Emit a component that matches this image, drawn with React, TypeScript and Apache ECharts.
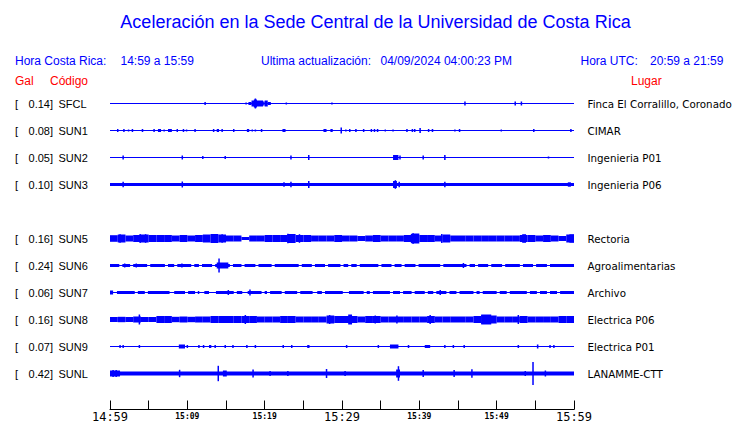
import React, { useEffect, useRef } from 'react';
import * as echarts from 'echarts';

const titleText = 'Aceleración en la Sede Central de la Universidad de Costa Rica';
const localTime = '14:59 a 15:59';
const utcTime = '20:59 a 21:59';
const updatedAt = '04/09/2024 04:00:23 PM';

const codes = ['SFCL', 'SUN1', 'SUN2', 'SUN3', 'SUN5', 'SUN6', 'SUN7', 'SUN8', 'SUN9', 'SUNL'];
const galValues = ['0.14', '0.08', '0.05', '0.10', '0.16', '0.24', '0.06', '0.16', '0.07', '0.42'];
const places = ['Finca El Corralillo, Coronado', 'CIMAR', 'Ingenieria P01', 'Ingenieria P06', 'Rectoria', 'Agroalimentarias', 'Archivo', 'Electrica P06', 'Electrica P01', 'LANAMME-CTT'];
const rowIndex = [0, 1, 2, 3, 5, 6, 7, 8, 9, 10];
const tickLabels = ['14:59', '', '15:09', '', '15:19', '', '15:29', '', '15:39', '', '15:49', '', '15:59'];

// baseline half-thickness of each trace (amplitude units)
const baseAmp = [0.5, 0.5, 0.5, 1.6, 0, 0.5, 0.5, 0, 0.5, 2];

// segments: [start minute, end minute, half amplitude]
const sfcl = [[12.3, 12.3, 1.5], [17.6, 17.6, 1], [17.9, 18.3, 1.5], [18.3, 19.8, 3], [18.6, 19.0, 4], [18.75, 18.85, 5], [19.8, 20.0, 2], [20.0, 20.4, 3], [20.4, 20.8, 1.5], [22.8, 22.8, 1], [28.7, 28.7, 1], [45.9, 45.9, 2], [52.4, 52.4, 2], [53.2, 53.2, 2]];
const sun1 = [[1.0, 1.0, 1.5], [1.8, 1.8, 1.5], [2.4, 2.4, 1], [2.9, 2.9, 1.5], [4.1, 4.3, 1.5], [5.7, 5.7, 1.5], [6.2, 6.6, 1.5], [7.0, 7.0, 1], [7.5, 8.0, 1.5], [8.7, 8.7, 1.5], [9.5, 9.5, 1.5], [9.9, 9.9, 1], [11.0, 11.0, 1.5], [13.4, 13.4, 1.5], [13.8, 14.1, 1.5], [14.5, 14.5, 1.5], [16.0, 16.0, 1.5], [17.7, 18.0, 1.5], [18.4, 18.4, 1], [18.8, 18.8, 1], [19.6, 19.6, 1.5], [22.3, 22.7, 1.5], [27.6, 28.0, 1.5], [28.5, 28.8, 1.5], [29.9, 29.9, 3], [30.5, 30.5, 1], [31.0, 31.0, 1.5], [31.7, 31.9, 1.5], [32.8, 32.8, 1.5], [33.8, 33.8, 1.5], [34.2, 34.2, 1.5], [34.5, 34.7, 1.5], [35.6, 35.6, 1], [36.6, 36.6, 1], [38.3, 38.5, 1.5], [39.1, 39.1, 1.5], [39.3, 39.5, 1.5], [40.0, 40.2, 2.5], [41.2, 41.2, 1.5], [41.6, 41.8, 1.5], [44.6, 44.6, 1], [45.2, 45.2, 1.5], [50.6, 50.6, 1], [54.7, 54.9, 1.5], [59.5, 59.7, 1.5]];
const sun2 = [[1.7, 1.7, 2], [9.35, 9.35, 2], [12.0, 12.0, 1.5], [14.9, 14.9, 1.5], [23.4, 23.4, 2], [25.6, 25.8, 2.5], [36.6, 37.3, 2.5], [37.5, 37.5, 2], [40.5, 40.5, 2], [43.2, 43.4, 2.5], [56.7, 56.7, 1]];
const sun3 = [[1.7, 1.7, 2.7], [9.35, 9.35, 3], [22.4, 22.6, 2.2], [23.4, 23.4, 2.7], [25.6, 25.8, 3.5], [36.6, 37.1, 3.5], [36.9, 36.9, 4.3], [37.4, 37.4, 2.7], [43.3, 43.3, 2.7], [59.2, 59.6, 2.2]];
const sun5Env = [3.3, 4, 3, 3.5, 4, 3.5, 3.5, 3.5, 3, 3.5, 3, 3.5, 4, 4.5, 4, 3, 3, 1.5, 3, 3, 3.5, 3.5, 3.5, 4.5, 3.5, 3.5, 3, 3, 3, 3.5, 3, 3, 2.5, 3, 3.5, 3, 3, 3, 3.5, 5, 3.5, 3.5, 3, 4, 3, 3, 3, 3, 3, 3, 3, 3, 3, 3.5, 3.5, 3, 3.5, 3, 2.5, 4];
const sun5 = [[1.3, 1.3, 4.3], [3.9, 3.9, 4.5], [4.6, 4.6, 4.3], [13.3, 13.3, 4.5], [14.5, 14.5, 4.3], [23.0, 23.0, 4.7], [24.5, 24.5, 4.3], [38.9, 39.6, 4.5], [39.2, 39.2, 5.3], [42.9, 42.9, 4.5], [53.3, 53.8, 4.3], [59.4, 60, 4.2]];
const sun6 = [[0, 1.2, 1.5], [1.6, 2.6, 1.5], [1.9, 1.9, 2], [3.0, 4.8, 1.5], [3.4, 3.4, 2], [5.2, 7.1, 1.5], [7.5, 8.3, 1.5], [8.7, 10.5, 1.5], [9.3, 9.3, 2], [10.9, 11.5, 1.5], [11.9, 13.2, 1.5], [13.6, 15.5, 1.5], [13.8, 15.3, 3], [14.1, 14.1, 7], [15.9, 17.0, 1.5], [17.4, 18.8, 1.5], [19.2, 20.9, 1.5], [21.3, 24.4, 1.5], [24.8, 26.1, 1.5], [26.5, 27.8, 1.5], [28.2, 29.8, 1.5], [30.2, 30.8, 1.5], [31.2, 31.9, 1.5], [32.3, 34.7, 1.5], [35.1, 36.4, 1.5], [36.8, 37.7, 1.5], [38.1, 39.5, 1.5], [39.9, 42.7, 1.5], [43.1, 46.1, 1.5], [45.7, 45.7, 2.5], [46.5, 47.2, 1.5], [47.6, 48.9, 1.5], [49.3, 50.7, 1.5], [51.1, 53.0, 1.5], [53.4, 54.7, 1.5], [55.1, 56.5, 1.5], [56.9, 60, 1.5]];
const sun7 = [[0, 0.4, 2], [0.9, 3.2, 1.5], [3.6, 4.5, 1.5], [4.9, 7.7, 1.5], [8.3, 9.7, 1.5], [10.1, 11.0, 1.5], [11.4, 11.5, 1.5], [12.2, 12.8, 1.5], [13.7, 16.0, 1.5], [15.3, 15.3, 2.5], [16.4, 17.1, 1.5], [17.8, 19.6, 1.5], [18.1, 18.1, 3], [20.0, 20.3, 1.5], [20.7, 22.2, 1.5], [22.6, 24.2, 1.5], [24.6, 26.2, 1.5], [26.8, 27.4, 1.5], [27.8, 30.1, 1.5], [30.9, 32.8, 1.5], [33.2, 33.6, 1.5], [34.0, 36.2, 1.5], [36.6, 37.5, 1.5], [37.9, 39.0, 1.5], [39.4, 40.7, 1.5], [41.1, 41.8, 1.5], [42.2, 43.5, 1.5], [42.7, 42.7, 2.5], [43.9, 44.8, 1.5], [45.2, 47.0, 1.5], [47.4, 47.8, 1.5], [48.2, 50.0, 1.5], [50.4, 51.3, 1.5], [51.7, 53.9, 1.5], [54.3, 55.2, 1.5], [55.6, 56.5, 1.5], [56.9, 57.8, 1.5], [58.2, 60, 1.5]];
const sun8Env = [2.5, 2.7, 2.5, 3, 2.5, 2.5, 3.5, 3.5, 2.7, 3, 2.7, 3, 3, 3.5, 3.5, 3.5, 3.5, 3.5, 3.5, 3, 3, 3, 3.5, 3.5, 3, 3, 3, 3, 4, 3.5, 3.5, 3.5, 3, 3.5, 3.5, 3, 3, 3, 3, 3, 3, 3.5, 3, 3, 3, 3, 3, 3.5, 4.5, 4, 3, 3, 3, 3.5, 3, 3, 3, 3, 3.5, 3.5];
const sun8 = [[3.8, 3.8, 5], [17.5, 17.5, 4.5], [28.4, 28.4, 4.5], [30.8, 31.3, 5], [34.3, 34.3, 4], [37.1, 37.1, 4], [41.4, 41.4, 4.5], [48.0, 49.3, 5], [52.8, 52.8, 4.5]];
const sun9 = [[1.3, 1.3, 1.5], [1.7, 1.7, 1.5], [3.8, 3.8, 1.5], [8.9, 9.7, 2], [10.0, 10.0, 1.5], [11.5, 11.5, 1.5], [12.1, 12.1, 1.5], [12.8, 13.1, 1.5], [13.6, 13.6, 1.5], [14.9, 14.9, 1.5], [15.9, 15.9, 1.5], [17.6, 17.8, 1.5], [18.8, 18.8, 1.5], [22.4, 22.4, 1.5], [23.5, 23.5, 1.5], [25.5, 25.8, 1.5], [30.6, 30.6, 1.5], [34.7, 34.7, 1.5], [36.2, 37.3, 2], [38.6, 38.6, 1.5], [40.7, 41.4, 1.5], [43.3, 43.3, 1.5], [44.4, 44.4, 1.5], [45.8, 45.8, 1.5], [52.7, 52.9, 1.5], [55.2, 55.4, 2], [56.9, 56.9, 1.5], [57.4, 57.4, 1.5]];
const sunl = [[0, 1.3, 3], [0.4, 0.4, 3.5], [0.8, 0.8, 3.5], [9.0, 9.0, 3.7], [14.0, 14.0, 7.7], [14.6, 15.1, 3], [18.5, 18.5, 4], [20.7, 20.7, 2.5], [23.0, 23.0, 2.5], [28.0, 28.0, 4.5], [30.4, 30.4, 2.5], [37.0, 37.5, 4], [37.3, 37.3, 7.3], [40.5, 40.5, 3.5], [44.5, 44.5, 3.5], [46.8, 46.8, 4.3], [53.7, 53.7, 2.5], [54.7, 54.7, 11.5], [56.3, 56.3, 3]];

const envToSeg = (env: number[]) => env.map((v, i) => [i, i + 1, v]);
const traceSegments = [sfcl, sun1, sun2, sun3, [...envToSeg(sun5Env), ...sun5], sun6, sun7, [...envToSeg(sun8Env), ...sun8], sun9, sunl];

const ROW = 27;
const BLUE = '#0000ff';

export default function App() {
  const ref = useRef<HTMLDivElement>(null);
  useEffect(() => {
    document.body.style.margin = '0';
    const chart = echarts.init(ref.current!, null, { renderer: 'svg' });
    const data: number[][] = [];
    traceSegments.forEach((segs, k) => {
      const cy = -ROW * rowIndex[k];
      if (baseAmp[k] > 0) data.push([0, 60, baseAmp[k], cy]);
      segs.forEach((s) => data.push([s[0], s[1], s[2], cy]));
    });
    const graphics: any[] = [];
    const txt = (x: number, y: number, text: string, fill: string, font: string, size: number, align = 'left') => ({
      type: 'text', x, y,
      style: { text, fill, fontFamily: font, fontSize: size, textAlign: align, textVerticalAlign: 'middle' },
    });
    graphics.push(txt(375.5, 22, titleText, BLUE, 'Liberation Sans', 18, 'center'));
    graphics.push(txt(15, 60.5, 'Hora Costa Rica:', BLUE, 'Liberation Sans', 12));
    graphics.push(txt(120.5, 60.5, localTime, BLUE, 'Liberation Sans', 12));
    graphics.push(txt(261, 60.5, 'Ultima actualización:', BLUE, 'Liberation Sans', 12));
    graphics.push(txt(380.5, 60.5, updatedAt, BLUE, 'Liberation Sans', 12));
    graphics.push(txt(580.5, 60.5, 'Hora UTC:', BLUE, 'Liberation Sans', 12));
    graphics.push(txt(650, 60.5, utcTime, BLUE, 'Liberation Sans', 12));
    graphics.push(txt(15, 80.5, 'Gal', '#ff0000', 'Liberation Sans', 12));
    graphics.push(txt(50, 80.5, 'Código', '#ff0000', 'Liberation Sans', 12));
    graphics.push(txt(631, 80.5, 'Lugar', '#ff0000', 'Liberation Sans', 12));
    codes.forEach((c, k) => {
      const y = 103.5 + ROW * rowIndex[k];
      graphics.push(txt(15, y, '[', '#000', 'Liberation Sans', 11));
      graphics.push(txt(53, y, galValues[k] + ']', '#000', 'Liberation Sans', 11, 'right'));
      graphics.push(txt(58.5, y, c, '#000', 'Liberation Sans', 11));
      graphics.push(txt(587.5, y, places[k], '#000', 'DejaVu Sans', 10.3));
    });

    chart.setOption({
      animation: false,
      grid: { left: 110, right: 166, top: 90, bottom: 13.5 },
      xAxis: {
        type: 'value', min: 0, max: 60, interval: 5,
        axisLine: { show: true, onZero: false, lineStyle: { color: '#000', width: 1 } },
        axisTick: { show: true, inside: true, length: 9, lineStyle: { color: '#000', width: 1 } },
        splitLine: { show: false },
        axisLabel: {
          margin: 0,
          showMinLabel: true, showMaxLabel: true,
          formatter: (v: number) => {
            const i = Math.round(v / 5);
            const t = tickLabels[i] || '';
            if (!t) return '';
            return i % 6 === 0 ? `{b|${t}}` : `{s|${t}}`;
          },
          rich: {
            b: { fontFamily: 'DejaVu Sans Mono', fontSize: 12, color: '#000', lineHeight: 14 },
            s: { fontFamily: 'DejaVu Sans Mono', fontSize: 8, fontWeight: 'bold', color: '#000', lineHeight: 14 },
          },
        },
      },
      yAxis: { type: 'value', min: -306, max: 13.5, show: false, splitLine: { show: false } },
      series: [{
        type: 'custom',
        clip: false,
        data,
        encode: { x: [0, 1], y: 3 },
        renderItem: (params: any, api: any) => {
          const t0 = api.value(0), t1 = api.value(1), a = api.value(2), cy = api.value(3);
          const p0 = api.coord([t0, cy + a]);
          const p1 = api.coord([t1, cy - a]);
          let w = p1[0] - p0[0];
          let x = p0[0];
          if (w < 1.5) { x = (p0[0] + p1[0]) / 2 - 0.75; w = 1.5; }
          return { type: 'rect', shape: { x, y: p0[1], width: w, height: Math.max(p1[1] - p0[1], 1) }, style: { fill: BLUE } };
        },
      }],
      graphic: graphics,
    });
    return () => chart.dispose();
  }, []);
  return <div ref={ref} style={{ width: 740, height: 423 }} />;
}
